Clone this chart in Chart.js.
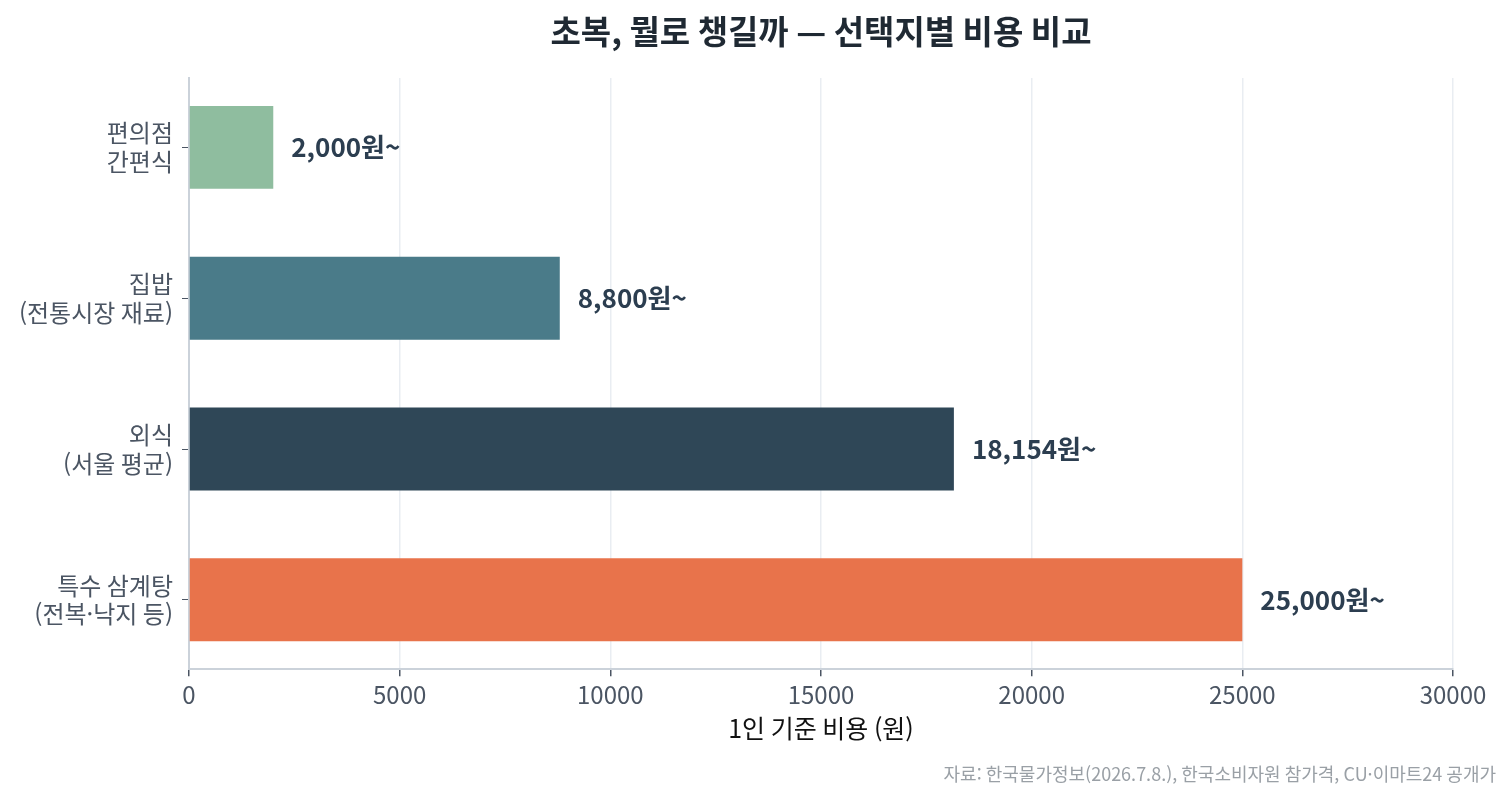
<!DOCTYPE html>
<html lang="ko">
<head>
<meta charset="utf-8">
<title>초복 비용 비교</title>
<script src="https://cdn.jsdelivr.net/npm/chart.js@4.4.1/dist/chart.umd.min.js"></script>
<style>
  html, body { margin: 0; padding: 0; background: #fff; }
  canvas { display: block; }
</style>
</head>
<body>
<canvas id="chart" width="1512" height="800"></canvas>
<script>
// data
const categories = [
  ['편의점', '간편식'],
  ['집밥', '(전통시장 재료)'],
  ['외식', '(서울 평균)'],
  ['특수 삼계탕', '(전복·낙지 등)']
];
const costs = [2000, 8800, 18154, 25000];
const valueLabels = ['2,000원~', '8,800원~', '18,154원~', '25,000원~'];
const barColors = ['#8fbd9f', '#4a7b89', '#2f4757', '#e8734b'];
const xTicks = [0, 5000, 10000, 15000, 20000, 25000, 30000];

const titleText = '초복, 뭘로 챙길까 — 선택지별 비용 비교';
const xTitle = '1인 기준 비용 (원)';
const sourceText = '자료: 한국물가정보(2026.7.8.), 한국소비자원 참가격, CU·이마트24 공개가';

const FONT = "'Noto Sans CJK KR', 'Noto Sans', sans-serif";

// title centred over the plot area
const titlePlugin = {
  id: 'plotTitle',
  afterDraw(chart) {
    const { ctx, chartArea } = chart;
    ctx.save();
    ctx.font = 'bold 33px ' + FONT;
    ctx.fillStyle = '#1f2933';
    ctx.textAlign = 'center';
    ctx.textBaseline = 'middle';
    ctx.fillText(titleText, (chartArea.left + chartArea.right) / 2, 31);
    ctx.restore();
  }
};

// value labels at the end of each bar
const valuePlugin = {
  id: 'valueLabels',
  afterDatasetsDraw(chart) {
    const { ctx } = chart;
    const meta = chart.getDatasetMeta(0);
    ctx.save();
    ctx.font = 'bold 26px ' + FONT;
    ctx.fillStyle = '#2c3e50';
    ctx.textAlign = 'left';
    ctx.textBaseline = 'middle';
    meta.data.forEach((bar, i) => {
      ctx.fillText(valueLabels[i], bar.x + 18, bar.y);
    });
    ctx.restore();
  }
};

// source note, bottom right
const sourcePlugin = {
  id: 'sourceNote',
  afterDraw(chart) {
    const { ctx } = chart;
    ctx.save();
    ctx.font = '18px ' + FONT;
    ctx.fillStyle = '#9aa0a6';
    ctx.textAlign = 'right';
    ctx.textBaseline = 'middle';
    ctx.fillText(sourceText, 1496, 774);
    ctx.restore();
  }
};

new Chart(document.getElementById('chart'), {
  type: 'bar',
  data: {
    datasets: [{
      data: costs.map((v, i) => ({ x: v, y: i })),
      backgroundColor: barColors,
      borderWidth: 0,
      barPercentage: 0.55,
      categoryPercentage: 1
    }]
  },
  options: {
    indexAxis: 'y',
    responsive: false,
    animation: false,
    devicePixelRatio: 1,
    layout: { padding: { top: 78, right: 59, bottom: 57, left: 0 } },
    plugins: {
      legend: { display: false },
      tooltip: { enabled: false }
    },
    scales: {
      x: {
        type: 'linear',
        min: 0,
        max: 30000,
        afterBuildTicks(scale) {
          scale.ticks = xTicks.map(v => ({ value: v }));
        },
        grid: {
          color: '#e9edf2',
          lineWidth: 1.5,
          tickColor: '#4b5563',
          tickLength: 7
        },
        border: { color: '#cbd2da', width: 2 },
        ticks: {
          color: '#4b5563',
          font: { family: FONT, size: 24 },
          padding: 4,
          callback: v => String(v)
        },
        title: {
          display: true,
          text: xTitle,
          color: '#111',
          font: { family: FONT, size: 25 },
          padding: { top: 0, bottom: 0 }
        }
      },
      y: {
        type: 'linear',
        reverse: true,
        offset: false,
        min: -0.46,
        max: 3.46,
        afterFit(scale) { scale.width = 189; },
        afterBuildTicks(scale) {
          scale.ticks = categories.map((c, i) => ({ value: i }));
        },
        grid: {
          offset: false,
          drawOnChartArea: false,
          tickColor: '#4b5563',
          tickLength: 7
        },
        border: { color: '#cbd2da', width: 2 },
        ticks: {
          color: '#4b5563',
          font: { family: FONT, size: 24, lineHeight: 1.2 },
          padding: 9,
          callback: v => categories[v]
        }
      }
    }
  },
  plugins: [titlePlugin, valuePlugin, sourcePlugin]
});
</script>
</body>
</html>
